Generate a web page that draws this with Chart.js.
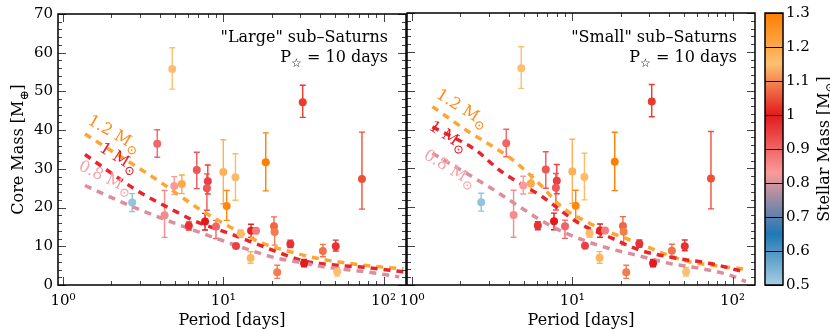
<!DOCTYPE html>
<html lang="en">
<head>
<meta charset="UTF-8">
<title>Sub-Saturn core masses</title>
<script src="https://cdn.jsdelivr.net/npm/chart.js"></script>
<style>
  body { margin: 0; background: #fff; }
  #wrap { position: relative; width: 830px; height: 332px; }
  canvas { position: absolute; top: 0; }
</style>
</head>
<body>
<div id="wrap">
  <canvas id="left" width="410" height="332" style="left:0"></canvas>
  <canvas id="right" width="370" height="332" style="left:390px"></canvas>
  <canvas id="cbar" width="70" height="332" style="left:760px"></canvas>
</div>

<script>
// planets (same sample in both panels)
const period      = [4.8, 31.3, 3.87, 18.4, 73.3, 6.83, 8.0, 7.9, 10.0, 11.9, 10.5, 4.94, 5.51, 2.70, 4.30, 6.09, 7.69, 9.0, 12.8, 12.0, 14.9, 16.0, 14.8, 20.7, 20.9, 21.7, 26.2, 31.9, 41.8, 50.3, 51.3];
const coreMass    = [55.8, 47.2, 36.5, 31.7, 27.4, 29.7, 26.8, 25.0, 29.2, 27.8, 20.4, 25.6, 26.1, 21.3, 18.0, 15.3, 16.4, 15.1, 13.3, 10.1, 14.0, 14.0, 7.0, 15.2, 13.7, 3.3, 10.6, 5.6, 8.8, 10.0, 3.4];
const massLo      = [50.6, 43.3, 33.0, 24.3, 19.6, 24.9, 23.5, 19.3, 21.0, 21.9, 16.7, 23.4, 23.6, 19.0, 12.3, 14.2, 14.2, 12.0, 12.3, 9.6, 12.3, 13.3, 5.6, 14.2, 10.3, 1.7, 9.7, 4.7, 7.3, 8.8, 2.3];
const massHi      = [61.3, 51.6, 40.1, 39.3, 39.5, 34.3, 31.0, 28.7, 37.5, 33.9, 24.4, 28.0, 28.4, 23.6, 24.4, 16.3, 18.5, 16.7, 14.2, 10.6, 15.7, 14.6, 8.6, 17.6, 15.0, 5.1, 11.6, 6.6, 10.5, 11.6, 4.5];
const stellarMass = [1.15, 1.03, 0.9, 1.3, 1.05, 0.92, 0.95, 0.92, 1.18, 1.16, 1.28, 0.83, 1.2, 0.52, 0.85, 0.97, 1.0, 0.9, 1.16, 0.95, 0.99, 0.87, 1.17, 1.07, 1.09, 1.09, 0.97, 1.0, 1.08, 0.97, 1.15];

// model curves, "Large" panel
const lgP12 = [1.37, 2.0, 4.04, 6.8, 11.0, 17.8, 26.2, 38.5, 75, 133];
const lgM12 = [39.0, 34.7, 26.6, 20.1, 15.0, 10.7, 8.6, 6.9, 5.1, 4.2];
const lgP10 = [1.37, 3.03, 5.1, 6.5, 11.6, 17.8, 26.2, 33.3, 51, 75, 133];
const lgM10 = [33.7, 23.9, 18.9, 16.7, 12.9, 9.9, 7.3, 6.0, 5.1, 4.6, 3.4];
const lgP08 = [1.37, 2.75, 9.1, 14.7, 21.7, 28.8, 42, 62, 91, 125];
const lgM08 = [25.7, 20.1, 12.0, 9.0, 6.9, 6.0, 4.7, 3.9, 3.0, 2.1];

// model curves, "Small" panel
const smP12 = [1.34, 2.17, 4.24, 6.5, 8.3, 12.8, 17.8, 26.2, 36.6, 53.6, 75, 118];
const smM12 = [45.9, 39.9, 32.2, 25.3, 20.6, 15.9, 13.3, 10.7, 8.2, 6.0, 5.1, 4.1];
const smP10 = [1.34, 2.5, 3.5, 6.5, 11.0, 17.8, 26.2, 44.5, 71, 118];
const smM10 = [40.7, 34.7, 29.6, 22.7, 15.9, 12.0, 9.0, 6.9, 5.6, 3.4];
const smP08 = [1.34, 2.9, 7.5, 11.6, 17.0, 25, 40, 62, 95, 121];
const smM08 = [33.9, 25.7, 15.0, 11.6, 9.4, 7.7, 5.6, 4.3, 2.6, 0.9];

const xTickVals = [1, 10, 100];
const xTickLabels = ['10\u2070', '10\u00b9', '10\u00b2'];
const yTickVals = [0, 10, 20, 30, 40, 50, 60, 70];
const yTickLabels = ['0', '10', '20', '30', '40', '50', '60', '70'];
const cbTickVals = [0.5, 0.6, 0.7, 0.8, 0.9, 1.0, 1.1, 1.2, 1.3];
const cbTickLabels = ['0.5', '0.6', '0.7', '0.8', '0.9', '1', '1.1', '1.2', '1.3'];

// colour map for stellar mass
const cmapVals = [0.5, 0.65, 0.83, 1.0, 1.15, 1.3];
const cmapCols = ['#a6cee3', '#1f78b4', '#fb9a99', '#e31a1c', '#fdbf6f', '#ff7f00'];

const FONT = '"DejaVu Serif"';
const SUN = '\u2299';
const hex2rgb = h => [1, 3, 5].map(i => parseInt(h.slice(i, i + 2), 16));
function cmap(v) {
  v = Math.max(cmapVals[0], Math.min(cmapVals[cmapVals.length - 1], v));
  for (let i = 0; i < cmapVals.length - 1; i++) {
    if (v <= cmapVals[i + 1]) {
      const t = (v - cmapVals[i]) / (cmapVals[i + 1] - cmapVals[i]);
      const a = hex2rgb(cmapCols[i]), b = hex2rgb(cmapCols[i + 1]);
      return 'rgb(' + a.map((c, k) => Math.round(c + (b[k] - c) * t)).join(',') + ')';
    }
  }
}

// text with subscripts: parts = [[text, isSub], ...]
function rich(ctx, parts, x, y, size, align, color, subScale) {
  const sc = subScale || 0.72;
  const font = s => (s ? Math.round(size * sc) : size) + 'px ' + FONT;
  let total = 0;
  const ws = parts.map(([t, s]) => { ctx.font = font(s); const w = ctx.measureText(t).width; total += w; return w; });
  let cx = align === 'right' ? x - total : align === 'center' ? x - total / 2 : x;
  ctx.fillStyle = color || '#000';
  ctx.textAlign = 'left';
  ctx.textBaseline = 'alphabetic';
  parts.forEach(([t, s], i) => {
    ctx.font = font(s);
    ctx.fillText(t, cx, y + (s ? size * 0.3 : 0));
    cx += ws[i];
  });
}

const errorBars = {
  id: 'errorBars',
  beforeDatasetsDraw(chart) {
    const { ctx, scales: { x, y } } = chart;
    ctx.save();
    ctx.lineWidth = 1.4;
    period.forEach((p, i) => {
      const px = x.getPixelForValue(p);
      const y0 = y.getPixelForValue(massLo[i]), y1 = y.getPixelForValue(massHi[i]);
      ctx.strokeStyle = cmap(stellarMass[i]);
      ctx.beginPath();
      ctx.moveTo(px, y0); ctx.lineTo(px, y1);
      ctx.moveTo(px - 3, y0); ctx.lineTo(px + 3, y0);
      ctx.moveTo(px - 3, y1); ctx.lineTo(px + 3, y1);
      ctx.stroke();
    });
    ctx.restore();
  }
};

// inward ticks on all sides, frame, titles and labels
const decor = {
  id: 'decor',
  afterDraw(chart, args, o) {
    const { ctx, chartArea: a, scales: { x, y } } = chart;
    ctx.save();
    ctx.strokeStyle = '#444';
    ctx.lineWidth = 1;
    ctx.beginPath();
    for (const d of [0.1, 1, 10, 100]) {
      for (let k = 1; k < 10; k++) {
        const v = d * k;
        if (v < x.min || v > x.max) continue;
        const px = Math.round(x.getPixelForValue(v)) + 0.5;
        const L = k === 1 ? 8 : 4;
        ctx.moveTo(px, a.bottom); ctx.lineTo(px, a.bottom - L);
        ctx.moveTo(px, a.top); ctx.lineTo(px, a.top + L);
      }
    }
    for (let v = 0; v <= 70; v += 2) {
      const py = Math.round(y.getPixelForValue(v)) + 0.5;
      const L = v % 10 === 0 ? 8 : 4;
      ctx.moveTo(a.left, py); ctx.lineTo(a.left + L, py);
      ctx.moveTo(a.right, py); ctx.lineTo(a.right - L, py);
    }
    ctx.stroke();
    ctx.strokeStyle = '#000';
    ctx.lineWidth = 1.5;
    ctx.strokeRect(a.left, a.top, a.right - a.left, a.bottom - a.top);

    // panel title
    rich(ctx, [[o.title, false]], a.right - 18, 42, 16, 'right');
    rich(ctx, [['P', false], ['\u2606', true], [' = 10 days', false]], a.right - 18, 62, 16, 'right');

    // x axis title
    rich(ctx, [['Period [days]', false]], (a.left + a.right) / 2, 325, 16, 'center');
    if (o.ytitle) {
      ctx.save();
      ctx.translate(23, (a.top + a.bottom) / 2);
      ctx.rotate(-Math.PI / 2);
      rich(ctx, [['Core Mass [M', false], ['\u2295', true], [']', false]], 0, 0, 16, 'center');
      ctx.restore();
    }

    // curve labels
    for (const l of o.labels) {
      ctx.save();
      ctx.translate(x.getPixelForValue(l.p), y.getPixelForValue(l.m));
      ctx.rotate(l.ang * Math.PI / 180);
      rich(ctx, [[l.t + ' M', false], [SUN, true]], 0, -1, 16, 'center', l.c, 0.8);
      ctx.restore();
    }
    ctx.restore();
  }
};

function curve(px, my, color, order) {
  return {
    data: px.map((p, i) => ({ x: p, y: my[i] })),
    showLine: true, pointRadius: 0, borderColor: color, borderWidth: 3.5,
    borderDash: [7, 6], cubicInterpolationMode: 'monotone', order: order
  };
}

function panel(id, curves, opts, withY, padRight, yWidth) {
  return new Chart(document.getElementById(id), {
    type: 'scatter',
    data: {
      datasets: [{
        data: period.map((p, i) => ({ x: p, y: coreMass[i] })),
        pointBackgroundColor: stellarMass.map(cmap),
        pointBorderWidth: 0, pointRadius: 4, order: 0
      }].concat(curves)
    },
    options: {
      responsive: false, animation: false, events: [],
      layout: { padding: { top: 13, right: padRight, left: 0, bottom: 0 } },
      plugins: { legend: { display: false }, tooltip: { enabled: false }, decor: opts },
      scales: {
        x: {
          type: 'logarithmic', min: 0.93, max: 138,
          grid: { display: false, drawTicks: false }, border: { display: false },
          afterBuildTicks: s => { s.ticks = xTickVals.map(v => ({ value: v })); },
          afterFit: s => { s.height = 47; },
          ticks: { color: '#000', padding: 7, font: { family: FONT, size: 15 }, autoSkip: false, maxRotation: 0,
                   callback: (v, i) => xTickLabels[i] }
        },
        y: {
          min: 0, max: 70,
          grid: { display: false, drawTicks: false }, border: { display: false },
          afterBuildTicks: s => { s.ticks = yTickVals.map(v => ({ value: v })); },
          afterFit: s => { s.width = yWidth; },
          ticks: { display: withY, color: '#000', padding: 5, font: { family: FONT, size: 15 },
                   callback: (v, i) => yTickLabels[i] }
        }
      }
    },
    plugins: [errorBars, decor]
  });
}

panel('left', [
  curve(lgP12, lgM12, '#ffa533', 3),
  curve(lgP10, lgM10, '#e8252b', 2),
  curve(lgP08, lgM08, '#dc8e9c', 1)
], {
  title: '"Large" sub\u2013Saturns', ytitle: true,
  labels: [
    { t: '1.2', p: 2.0, m: 37.8, ang: 30, c: '#ff8a1a' },
    { t: '1', p: 2.14, m: 31.6, ang: 32, c: '#e0202a' },
    { t: '0.8', p: 1.78, m: 26.4, ang: 26, c: '#f7a3aa' }
  ]
}, true, 3, 58);

panel('right', [
  curve(smP12, smM12, '#ffa533', 3),
  curve(smP10, smM10, '#e8252b', 2),
  curve(smP08, smM08, '#dc8e9c', 1)
], {
  title: '"Small" sub\u2013Saturns', ytitle: false,
  labels: [
    { t: '1.2', p: 1.97, m: 44.2, ang: 32, c: '#ff8a1a' },
    { t: '1', p: 1.61, m: 37.0, ang: 33, c: '#e0202a' },
    { t: '0.8', p: 1.65, m: 28.7, ang: 31, c: '#f7a3aa' }
  ]
}, false, 5, 17);

// colour bar
const cbarDraw = {
  id: 'cbarDraw',
  beforeDatasetsDraw(chart) {
    const { ctx, chartArea: a, scales: { y } } = chart;
    const g = ctx.createLinearGradient(0, y.getPixelForValue(0.5), 0, y.getPixelForValue(1.3));
    cmapVals.forEach((v, i) => g.addColorStop((v - 0.5) / 0.8, cmapCols[i]));
    ctx.save();
    ctx.fillStyle = g;
    ctx.fillRect(a.left, a.top, a.right - a.left, a.bottom - a.top);
    ctx.strokeStyle = '#000';
    ctx.lineWidth = 1;
    ctx.beginPath();
    cbTickVals.forEach(v => {
      const py = Math.round(y.getPixelForValue(v)) + 0.5;
      ctx.moveTo(a.left, py); ctx.lineTo(a.right, py);
    });
    ctx.stroke();
    ctx.lineWidth = 1.5;
    ctx.strokeRect(a.left, a.top, a.right - a.left, a.bottom - a.top);
    ctx.translate(69, (a.top + a.bottom) / 2);
    ctx.rotate(-Math.PI / 2);
    rich(ctx, [['Stellar Mass [M', false], [SUN, true], [']', false]], 0, 0, 16, 'center');
    ctx.restore();
  }
};

new Chart(document.getElementById('cbar'), {
  type: 'scatter',
  data: { datasets: [] },
  options: {
    responsive: false, animation: false, events: [],
    layout: { padding: { top: 13, right: 0, left: 5, bottom: 47 } },
    plugins: { legend: { display: false }, tooltip: { enabled: false } },
    scales: {
      x: { display: false },
      y: {
        position: 'right', min: 0.5, max: 1.3,
        grid: { display: false, drawTicks: false }, border: { display: false },
        afterBuildTicks: s => { s.ticks = cbTickVals.map(v => ({ value: v })); },
        afterFit: s => { s.width = 47; },
        ticks: { color: '#000', padding: 3, font: { family: FONT, size: 15 },
                 callback: (v, i) => cbTickLabels[i] }
      }
    }
  },
  plugins: [cbarDraw]
});
</script>
</body>
</html>
